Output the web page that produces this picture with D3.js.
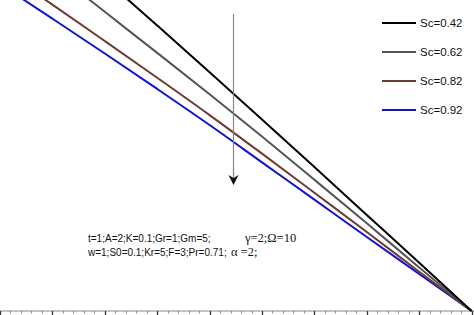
<!DOCTYPE html>
<html>
<head>
<meta charset="utf-8">
<script src="https://cdn.jsdelivr.net/npm/d3@7"></script>
<style>
  body { margin: 0; background: #fff; }
  svg { display: block; }
</style>
</head>
<body>
<script>
const width = 474;
const height = 315;

// x positions (axis units) and the four Sc curves
const xs = [0, 1, 2, 3, 4, 5, 6, 7, 8, 9];
const sc042 = [1.372, 1.220, 1.067, 0.918, 0.768, 0.616, 0.463, 0.309, 0.155, 0];
const sc062 = [1.226, 1.095, 0.962, 0.830, 0.697, 0.561, 0.422, 0.282, 0.140, 0];
const sc082 = [1.100, 0.985, 0.868, 0.750, 0.630, 0.506, 0.380, 0.254, 0.126, 0];
const sc092 = [1.051, 0.940, 0.828, 0.714, 0.598, 0.478, 0.358, 0.238, 0.119, 0];
const seriesNames = ["Sc=0.42", "Sc=0.62", "Sc=0.82", "Sc=0.92"];
const seriesColors = ["#000000", "#555555", "#6e3b33", "#1010d8"];
const seriesData = [sc042, sc062, sc082, sc092];

const x = d3.scaleLinear().domain([0, 9]).range([0, 471.6]);
const y = d3.scaleLinear().domain([0, 1]).range([311, 0]);

const svg = d3.select("body").append("svg")
    .attr("width", width)
    .attr("height", height);

// bottom axis: 5 minor steps per major
const axis = svg.append("g").attr("transform", `translate(0,${y(0)})`);
axis.append("line")
    .attr("x1", 0).attr("x2", width)
    .attr("stroke", "#888").attr("stroke-width", 1);
const minor = d3.range(0, 9.01, 0.2);
const isMajor = d => Math.abs(d - Math.round(d)) < 1e-6;
axis.selectAll("line.tick")
  .data(minor)
  .join("line")
    .attr("class", "tick")
    .attr("x1", d => Math.round(x(d)) + 0.5)
    .attr("x2", d => Math.round(x(d)) + 0.5)
    .attr("y1", 0)
    .attr("y2", d => isMajor(d) ? 4 : 2.5)
    .attr("stroke", d => isMajor(d) ? "#333" : "#777")
    .attr("stroke-width", d => isMajor(d) ? 1.3 : 0.8);

const line = d3.line()
  .x((d, i) => x(xs[i]))
  .y(d => y(d))
  .curve(d3.curveMonotoneX);

svg.append("g")
    .attr("fill", "none")
  .selectAll("path")
  .data(seriesData.slice().reverse())
  .join("path")
    .attr("stroke", (d, i) => seriesColors[seriesData.length - 1 - i])
    .attr("stroke-width", 2)
    .attr("d", line);

// arrow
svg.append("defs").append("marker")
    .attr("id", "ah")
    .attr("viewBox", "0 0 10 10")
    .attr("refX", 9).attr("refY", 5)
    .attr("markerWidth", 10).attr("markerHeight", 12)
    .attr("markerUnits", "userSpaceOnUse")
    .attr("orient", "auto")
  .append("path")
    .attr("d", "M0,0 L10,5 L0,10 L3,5 Z")
    .attr("fill", "#111");
svg.append("line")
    .attr("x1", 233.5).attr("x2", 233.5)
    .attr("y1", 14).attr("y2", 184)
    .attr("stroke", "#888").attr("stroke-width", 1.2)
    .attr("marker-end", "url(#ah)");

// legend
const legend = svg.append("g")
  .selectAll("g")
  .data(seriesNames)
  .join("g")
    .attr("transform", (d, i) => `translate(382,${23 + i * 29})`);
legend.append("line")
    .attr("x1", 0).attr("x2", 34)
    .attr("stroke", (d, i) => seriesColors[i])
    .attr("stroke-width", 2);
legend.append("text")
    .attr("x", 38).attr("dy", "0.35em")
    .attr("font-family", "Liberation Sans, Arial, sans-serif")
    .attr("font-size", 11.5)
    .attr("fill", "#111")
    .text(d => d);

// parameter annotation
const note = svg.append("g")
    .attr("font-size", 10)
    .attr("fill", "#111");
const t1 = note.append("text").attr("x", 88).attr("y", 242);
t1.append("tspan").attr("font-family", "Liberation Sans, Arial, sans-serif")
    .text("t=1;A=2;K=0.1;Gr=1;Gm=5;");
t1.append("tspan").attr("x", 245).attr("font-family", "Liberation Serif, Times New Roman, serif")
    .attr("font-size", 12.5).text("γ=2;Ω=10");
const t2 = note.append("text").attr("x", 88).attr("y", 256);
t2.append("tspan").attr("font-family", "Liberation Sans, Arial, sans-serif")
    .text("w=1;S0=0.1;Kr=5;F=3;Pr=0.71;");
t2.append("tspan").attr("x", 231).attr("font-family", "Liberation Serif, Times New Roman, serif")
    .attr("font-size", 12.5).text("α =2;");
</script>
</body>
</html>
